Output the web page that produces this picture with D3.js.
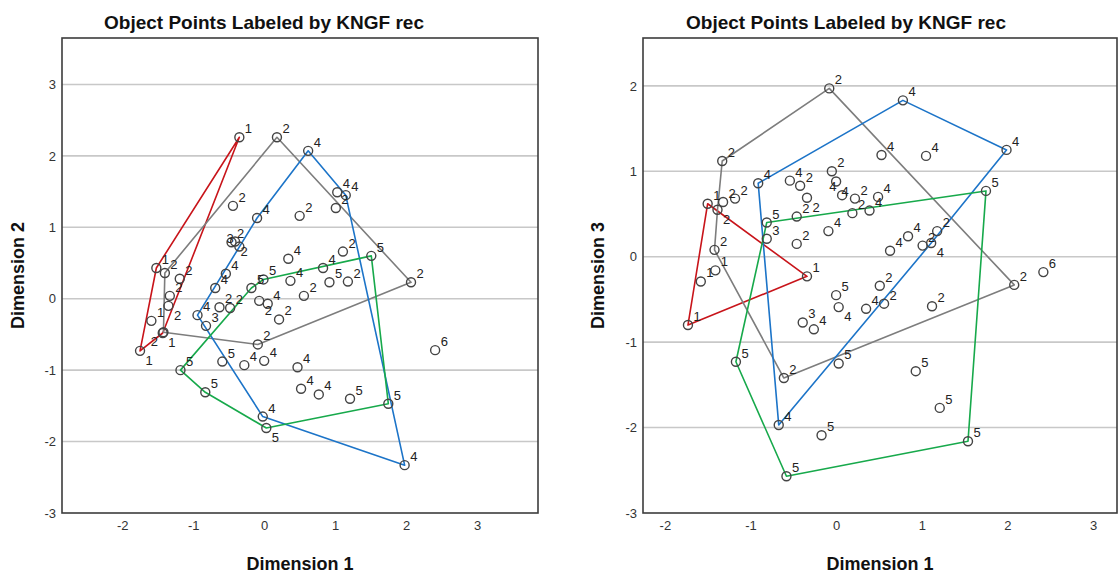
<!DOCTYPE html>
<html>
<head>
<meta charset="utf-8">
<script src="https://cdn.jsdelivr.net/npm/d3@7"></script>
<style>
  html, body { margin: 0; padding: 0; background: #fff; }
  svg { display: block; font-family: Arial, "Liberation Sans", sans-serif; }
</style>
</head>
<body>
<svg id="chart" width="1118" height="576"></svg>
<script>
// ---- Object scores, plot 1: Dimension 1 vs Dimension 2 ----
const dim1Plot1 = [-0.35, 0.18, 0.62, 1.03, 1.15, -0.44, -0.10, 0.50, 1.01, -0.46,
                   -0.41, -0.35, 0.34, 1.11, 1.51, 0.83, 0.37, 0.92, 1.18, 2.07,
                   0.56, -0.01, -0.18, -0.07, 0.05, -0.63, -0.48, -0.94, -0.54, -0.69,
                   -1.52, -1.40, -1.19, -1.33, -1.35, -1.59, -1.43, -1.42, -1.75, -0.82,
                   0.21, -0.09, 0.00, -0.28, -0.59, -1.18, -0.83, 0.47, 0.52, 0.77,
                   1.21, 1.75, -0.02, 0.03, 1.98, 2.41];
const dim2Plot1 = [2.26, 2.26, 2.07, 1.49, 1.45, 1.30, 1.13, 1.16, 1.27, 0.79,
                   0.80, 0.73, 0.56, 0.66, 0.60, 0.43, 0.25, 0.23, 0.24, 0.23,
                   0.04, 0.27, 0.15, -0.03, -0.07, -0.12, -0.13, -0.23, 0.35, 0.15,
                   0.43, 0.36, 0.28, 0.04, -0.10, -0.31, -0.48, -0.47, -0.73, -0.38,
                   -0.29, -0.64, -0.87, -0.93, -0.88, -1.00, -1.31, -0.96, -1.26, -1.34,
                   -1.40, -1.47, -1.65, -1.81, -2.33, -0.72];
const recPlot1  = [1, 2, 4, 4, 4, 2, 4, 2, 2, 2,
                   2, 3, 4, 2, 5, 4, 4, 5, 2, 2,
                   2, 5, 5, 2, 4, 2, 2, 4, 4, 4,
                   1, 2, 2, 2, 2, 1, 1, 2, 1, 3,
                   2, 2, 4, 4, 5, 5, 5, 4, 4, 4,
                   5, 5, 4, 5, 4, 6];

// ---- Object scores, plot 2: Dimension 1 vs Dimension 3 ----
const dim1Plot2 = [-0.08, 0.78, -1.33, 0.53, 1.05, 1.99, -0.91, -0.54, -0.42, -0.05,
                   0.00, -0.34, 0.07, 0.22, 0.49, 0.19, 0.39, -0.46, -0.46, -0.09,
                   1.75, -0.81, -0.81, -1.18, -1.32, -1.385, -1.50, -1.42, -1.41, -1.58,
                   -1.73, -0.34, 0.84, 1.18, 1.11, 1.01, 0.63, 2.08, 2.42, 0.51,
                   0.00, 0.03, 0.35, 0.56, 1.12, -0.39, -0.26, 0.03, 0.93, -0.61,
                   -1.17, -0.67, -0.17, 1.21, 1.54, -0.58];
const dim3Plot2 = [1.97, 1.83, 1.12, 1.19, 1.18, 1.25, 0.86, 0.89, 0.83, 1.00,
                   0.88, 0.69, 0.72, 0.68, 0.70, 0.51, 0.54, 0.47, 0.15, 0.30,
                   0.77, 0.40, 0.21, 0.68, 0.64, 0.55, 0.62, 0.08, -0.16, -0.29,
                   -0.80, -0.23, 0.24, 0.30, 0.16, 0.13, 0.07, -0.33, -0.18, -0.34,
                   -0.45, -0.59, -0.61, -0.55, -0.58, -0.77, -0.85, -1.25, -1.34, -1.42,
                   -1.23, -1.97, -2.09, -1.77, -2.16, -2.57];
const recPlot2  = [2, 4, 2, 4, 4, 4, 4, 4, 2, 2,
                   4, 2, 4, 2, 4, 2, 4, 2, 2, 4,
                   5, 5, 3, 2, 2, 2, 1, 2, 1, 1,
                   1, 1, 4, 2, 4, 2, 4, 2, 6, 2,
                   5, 4, 4, 2, 2, 3, 4, 5, 5, 2,
                   5, 4, 5, 5, 5, 5];

// ---- Axis ticks and text ----
const xTicksPlot1 = [-2, -1, 0, 1, 2, 3];
const yTicksPlot1 = [-3, -2, -1, 0, 1, 2, 3];
const xTicksPlot2 = [-2, -1, 0, 1, 2, 3];
const yTicksPlot2 = [-3, -2, -1, 0, 1, 2];
const chartTitle = "Object Points Labeled by KNGF rec";
const xAxisTitle = "Dimension 1";
const yTitlePlot1 = "Dimension 2";
const yTitlePlot2 = "Dimension 3";

// categories enclosed by a convex hull, with their outline colours
const hullCategories = [1, 2, 4, 5];
const hullColors = { 1: "#c8141a", 2: "#7d7d7d", 4: "#1c74c8", 5: "#17a94b" };

const svg = d3.select("#chart");

// place each point label at the first free spot around its marker
function placeLabels(pts, x, y) {
  const w = 8.5, up = 11, down = 3;
  const spots = [
    { dx: 5.5, dy: -4, anchor: "start" },
    { dx: 5.5, dy: 14, anchor: "start" },
    { dx: -5.5, dy: -4, anchor: "end" },
    { dx: -5.5, dy: 14, anchor: "end" },
    { dx: 7, dy: 5, anchor: "start" },
    { dx: -7, dy: 5, anchor: "end" },
    { dx: 0, dy: -8, anchor: "middle" },
    { dx: 0, dy: 18, anchor: "middle" }
  ];
  const boxes = [];
  const overlaps = b => boxes.some(o =>
    b.x0 < o.x1 && b.x1 > o.x0 && b.y0 < o.y1 && b.y1 > o.y0);
  const boxFor = (cx, cy, s) => {
    const tx = cx + s.dx, ty = cy + s.dy;
    const x0 = s.anchor === "start" ? tx : s.anchor === "end" ? tx - w : tx - w / 2;
    return { x0, x1: x0 + w, y0: ty - up, y1: ty + down };
  };
  pts.forEach(p => {
    const cx = x(p.x), cy = y(p.y);
    let chosen = spots.find(s => !overlaps(boxFor(cx, cy, s))) || spots[0];
    boxes.push(boxFor(cx, cy, chosen));
    p.lx = cx + chosen.dx; p.ly = cy + chosen.dy; p.anchor = chosen.anchor;
  });
}

function drawPlot(cfg) {
  const x = d3.scaleLinear().domain(cfg.xDomain).range([cfg.left, cfg.right]);
  const y = d3.scaleLinear().domain(cfg.yDomain).range([cfg.bottom, cfg.top]);
  const g = svg.append("g");

  const pts = cfg.xs.map((v, i) => ({ x: v, y: cfg.ys[i], rec: cfg.recs[i] }));

  // horizontal reference lines
  g.append("g").selectAll("line")
    .data(cfg.yTicks.filter(t => t > cfg.yDomain[0]))
    .join("line")
    .attr("x1", cfg.left).attr("x2", cfg.right)
    .attr("y1", d => y(d)).attr("y2", d => y(d))
    .attr("stroke", "#c8c8c8").attr("stroke-width", 1.6);

  // convex hulls around each category
  hullCategories.forEach(c => {
    const coords = pts.filter(p => p.rec === c).map(p => [x(p.x), y(p.y)]);
    const hull = d3.polygonHull(coords);
    if (!hull) return;
    g.append("path")
      .attr("d", "M" + hull.map(p => p.join(",")).join("L") + "Z")
      .attr("fill", "none")
      .attr("stroke", hullColors[c])
      .attr("stroke-width", 1.6)
      .attr("stroke-linejoin", "round");
  });

  // object points
  g.append("g").selectAll("circle")
    .data(pts)
    .join("circle")
    .attr("cx", d => x(d.x)).attr("cy", d => y(d.y))
    .attr("r", 4.5)
    .attr("fill", "none")
    .attr("stroke", "#444")
    .attr("stroke-width", 1.4);

  // category labels
  placeLabels(pts, x, y);
  g.append("g").selectAll("text")
    .data(pts)
    .join("text")
    .attr("x", d => d.lx)
    .attr("y", d => d.ly)
    .attr("text-anchor", d => d.anchor)
    .attr("font-size", 13)
    .attr("fill", "#222")
    .text(d => d.rec);

  // frame
  g.append("rect")
    .attr("x", cfg.left).attr("y", cfg.top)
    .attr("width", cfg.right - cfg.left).attr("height", cfg.bottom - cfg.top)
    .attr("fill", "none").attr("stroke", "#3c3c3c").attr("stroke-width", 1.6);

  // axes (labels only)
  const xAxis = d3.axisBottom(x).tickValues(cfg.xTicks).tickFormat(d => String(d))
    .tickSize(0).tickPadding(8);
  const yAxis = d3.axisLeft(y).tickValues(cfg.yTicks).tickFormat(d => String(d))
    .tickSize(0).tickPadding(6);
  const ax = g.append("g").attr("transform", `translate(0,${cfg.bottom})`).call(xAxis);
  const ay = g.append("g").attr("transform", `translate(${cfg.left},0)`).call(yAxis);
  [ax, ay].forEach(a => {
    a.select(".domain").remove();
    a.selectAll("text").attr("font-size", 13).attr("fill", "#333")
      .attr("font-family", "Arial, 'Liberation Sans', sans-serif");
  });

  // titles
  g.append("text")
    .attr("x", cfg.titleX).attr("y", 29)
    .attr("text-anchor", "middle")
    .attr("font-size", 19).attr("font-weight", "bold").attr("fill", "#111")
    .text(chartTitle);
  g.append("text")
    .attr("x", (cfg.left + cfg.right) / 2).attr("y", 570)
    .attr("text-anchor", "middle")
    .attr("font-size", 18).attr("font-weight", "bold").attr("fill", "#111")
    .text(xAxisTitle);
  g.append("text")
    .attr("transform", `translate(${cfg.yTitleX},${(cfg.top + cfg.bottom) / 2}) rotate(-90)`)
    .attr("text-anchor", "middle")
    .attr("font-size", 18).attr("font-weight", "bold").attr("fill", "#111")
    .text(cfg.yTitle);
}

drawPlot({
  left: 62, right: 538, top: 38, bottom: 513,
  xDomain: [-2.85, 3.86], yDomain: [-3, 3.65],
  xs: dim1Plot1, ys: dim2Plot1, recs: recPlot1,
  xTicks: xTicksPlot1, yTicks: yTicksPlot1,
  titleX: 264, yTitle: yTitlePlot1, yTitleX: 24
});

drawPlot({
  left: 643, right: 1117, top: 38, bottom: 513,
  xDomain: [-2.255, 3.28], yDomain: [-3, 2.56],
  xs: dim1Plot2, ys: dim3Plot2, recs: recPlot2,
  xTicks: xTicksPlot2, yTicks: yTicksPlot2,
  titleX: 846, yTitle: yTitlePlot2, yTitleX: 604
});
</script>
</body>
</html>
